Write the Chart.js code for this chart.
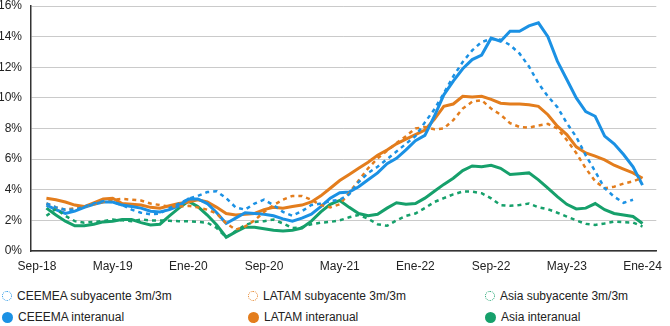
<!DOCTYPE html>
<html>
<head>
<meta charset="utf-8">
<script src="https://cdn.jsdelivr.net/npm/chart.js@4.4.0/dist/chart.umd.min.js"></script>
<style>
  body { margin: 0; background: #fff; font-family: "Liberation Sans", Arial, sans-serif; }
  #wrap { position: relative; width: 670px; height: 326px; }
  #chart { position: absolute; left: 0; top: 0; }
  .item { position: absolute; display: flex; align-items: center; white-space: nowrap; font-size: 12px; color: #222; height: 14px; }
  .dot { width: 10px; height: 10px; border-radius: 50%; margin-right: 5px; box-sizing: border-box; }
</style>
</head>
<body>
<div id="wrap">
  <canvas id="chart" width="670" height="282"></canvas>
  <div id="legend"></div>
</div>
<script>
// x axis: monthly, Sep-18 (index 0) .. Ene-24 (index 64)
var tickLabels = ['Sep-18', 'May-19', 'Ene-20', 'Sep-20', 'May-21', 'Ene-22', 'Sep-22', 'May-23', 'Ene-24'];

// values in %
var ceemeaSub = [null, 3.1, 2.85, 2.7, 2.7, 2.9, 3.1, 3.25, 3.2, 3.0, 2.7, 2.5, 2.4, 2.45, 2.8,
    3.1, 3.4, 3.6, 3.85, 3.9, 3.45, 2.85, 2.7, 3.1, 3.35, 3.0, 2.55, 2.3, 2.6, 3.0,
    3.1, 3.25, 3.35, 3.7, 4.5, 5.1, 5.5, 6.0, 6.5, 7.0, 7.5, 8.4, 9.25, 10.3, 11.4,
    12.35, 13.1, 13.65, 13.85, 13.8, 13.45, 12.9, 12.05, 10.95, 10.1, 9.4, 8.35, 7.45, 6.25, 5.2,
    4.1, 3.55, 3.15, 3.35, null];
var latamSub = [null, 3.1, 2.85, 2.7, 2.8, 2.9, 3.05, 3.2, 3.35, 3.4, 3.35, 3.3, 3.1, 3.0, 2.9,
    2.9, 2.95, 2.85, 2.7, 2.45, 1.8, 1.4, 1.6, 2.0, 2.55, 3.0, 3.35, 3.6, 3.6, 3.35,
    3.0, 2.85, 3.05, 3.8, 4.6, 5.4, 6.05, 6.55, 7.05, 7.5, 8.0, 8.1, 7.95, 8.0, 8.55,
    9.3, 9.75, 9.85, 9.3, 8.9, 8.35, 8.1, 8.05, 8.2, 8.3, 8.0, 7.25, 6.4, 5.4, 4.55,
    4.1, 4.2, 4.4, 4.55, 4.8];
var asiaSub = [null, 2.3, 2.75, 2.3, 1.95, 1.85, 1.9, 1.95, 2.05, 2.0, 1.95, 2.05, 2.0, 2.0, 1.97,
    1.95, 1.95, 1.9, 1.85, 1.5, 0.9, 1.3, 1.7, 1.9, 1.95, 2.05, 1.8, 1.5, 1.55, 1.75,
    1.85, 1.9, 2.0, 2.2, 2.35, 2.1, 1.75, 1.65, 2.0, 2.3, 2.45, 2.8, 3.2, 3.45, 3.7,
    3.88, 3.88, 3.77, 3.44, 3.0, 2.95, 3.0, 3.1, 2.86, 2.73, 2.5, 2.25, 2.0, 1.77, 1.7,
    1.8, 1.92, 1.88, 1.86, 1.6];
var ceemeaIa = [null, 3.0, 2.7, 2.45, 2.6, 2.85, 3.05, 3.2, 3.2, 3.0, 2.9, 2.8, 2.6, 2.55, 2.7,
    2.95, 3.4, 3.4, 3.1, 2.5, 1.8, 2.15, 2.5, 2.45, 2.4, 2.3, 2.1, 1.95, 2.15, 2.4,
    2.9, 3.45, 3.8, 3.85, 4.2, 4.65, 5.1, 5.7, 6.05, 6.6, 7.2, 7.55, 8.8, 10.2, 11.1,
    11.9, 12.5, 12.8, 13.9, 13.7, 14.35, 14.35, 14.7, 14.9, 14.0, 12.4, 11.2, 10.0, 9.1, 8.8,
    7.5, 7.0, 6.3, 5.5, 4.3];
var latamIa = [null, 3.45, 3.35, 3.2, 3.0, 2.9, 3.15, 3.4, 3.45, 3.1, 3.05, 3.0, 2.85, 2.8, 2.95,
    3.1, 3.2, 3.35, 3.2, 2.85, 2.45, 2.35, 2.4, 2.45, 2.7, 2.85, 2.8, 2.9, 3.0, 3.2,
    3.6, 4.1, 4.6, 5.0, 5.4, 5.8, 6.25, 6.6, 7.0, 7.3, 7.6, 7.9, 8.6, 9.45, 9.6,
    10.1, 10.05, 10.1, 9.9, 9.65, 9.6, 9.6, 9.55, 9.45, 8.9, 8.15, 7.6, 6.8, 6.4, 6.2,
    5.95, 5.6, 5.35, 5.1, 4.75];
var asiaIa = [null, 2.8, 2.35, 1.95, 1.65, 1.65, 1.75, 1.9, 1.95, 2.05, 2.05, 1.85, 1.7, 1.75, 2.3,
    2.8, 3.25, 2.9, 2.35, 1.7, 0.9, 1.25, 1.55, 1.55, 1.45, 1.35, 1.3, 1.35, 1.5, 1.95,
    2.55, 3.05, 3.3, 2.85, 2.45, 2.3, 2.4, 2.8, 3.15, 3.05, 3.1, 3.45, 3.9, 4.35, 4.75,
    5.25, 5.55, 5.5, 5.6, 5.4, 5.0, 5.05, 5.1, 4.65, 4.1, 3.55, 3.05, 2.75, 2.8, 3.1,
    2.7, 2.45, 2.35, 2.25, 1.8];

var blue = '#1b91e4', orange = '#e37d1d', green = '#16a06b';

var series = [
    { name: 'CEEMEA subyacente 3m/3m', data: ceemeaSub, color: blue, dotted: true },
    { name: 'LATAM subyacente 3m/3m', data: latamSub, color: orange, dotted: true },
    { name: 'Asia subyacente 3m/3m', data: asiaSub, color: green, dotted: true },
    { name: 'CEEEMA interanual', data: ceemeaIa, color: blue, dotted: false },
    { name: 'LATAM interanual', data: latamIa, color: orange, dotted: false },
    { name: 'Asia interanual', data: asiaIa, color: green, dotted: false }
];

var datasets = series.map(function (s) {
    return {
        label: s.name,
        data: s.data.map(function (v, i) { return { x: i, y: v }; }),
        borderColor: s.color,
        backgroundColor: s.color,
        borderWidth: s.dotted ? 2.5 : 3,
        borderDash: s.dotted ? [4, 4] : [],
        pointRadius: 0,
        tension: 0,
        fill: false
    };
});

new Chart(document.getElementById('chart').getContext('2d'), {
    type: 'line',
    data: { datasets: datasets },
    options: {
        responsive: false,
        animation: false,
        devicePixelRatio: 1,
        layout: { padding: { top: 0, right: 7, left: 0, bottom: 0 } },
        plugins: { legend: { display: false }, tooltip: { enabled: false } },
        scales: {
            x: {
                type: 'linear',
                min: -0.63,
                max: 65.46,
                afterFit: function (s) { s.height = 31; },
                afterBuildTicks: function (s) {
                    s.ticks = tickLabels.map(function (t, k) { return { value: k * 8 }; });
                },
                grid: { display: false, drawTicks: false },
                border: { display: true, color: '#333', width: 1.5 },
                ticks: {
                    padding: 8,
                    maxRotation: 0,
                    color: '#222',
                    font: { size: 12, family: '"Liberation Sans", Arial, sans-serif' },
                    callback: function (v) { return tickLabels[v / 8]; }
                }
            },
            y: {
                min: 0,
                max: 16,
                afterFit: function (s) {
                    s.width = 31;
                    // keep the top gridline close to the canvas edge
                    s.paddingTop = 6;
                    s.paddingBottom = 0;
                },
                grid: { color: '#cacaca', lineWidth: 1, drawTicks: false },
                border: { display: true, color: '#333', width: 1.5 },
                ticks: {
                    stepSize: 2,
                    padding: 9,
                    color: '#222',
                    font: { size: 12, family: '"Liberation Sans", Arial, sans-serif' },
                    callback: function (v) { return v + '%'; }
                }
            }
        }
    }
});

// legend: 3 columns x 2 rows
var colX = [2, 248, 485], rowY = [289, 310];
var legend = document.getElementById('legend');
series.forEach(function (s, k) {
    var item = document.createElement('div');
    item.className = 'item';
    item.style.left = colX[k % 3] + 'px';
    item.style.top = rowY[Math.floor(k / 3)] + 'px';
    var dot = document.createElement('span');
    dot.className = 'dot';
    if (s.dotted) {
        dot.style.border = '1.5px dotted ' + s.color;
    } else {
        dot.style.background = s.color;
        dot.style.width = '11px';
        dot.style.height = '11px';
    }
    item.appendChild(dot);
    item.appendChild(document.createTextNode(s.name));
    legend.appendChild(item);
});
</script>
</body>
</html>
